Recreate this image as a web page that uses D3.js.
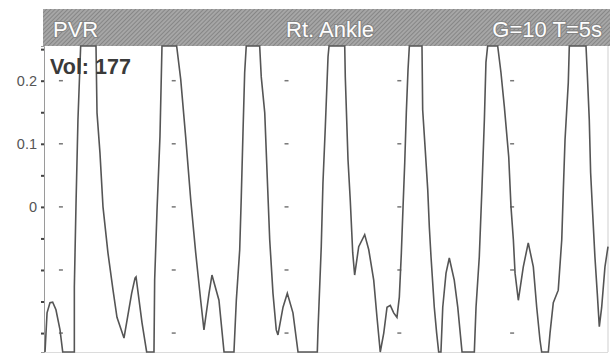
<!DOCTYPE html>
<html>
<head>
<meta charset="utf-8">
<script src="https://cdn.jsdelivr.net/npm/d3@7"></script>
<style>
  html, body { margin: 0; padding: 0; background: #fff; }
  svg { display: block; }
</style>
</head>
<body>
<svg id="chart" width="611" height="354"></svg>
<script>
// Pulse volume recording, right ankle: time (s) and volume signal
const times = [
  0.009, 0.027, 0.053, 0.077, 0.106, 0.142, 0.166, 0.269, 0.269, 0.284, 0.301, 0.325,
  0.461, 0.470, 0.496, 0.523, 0.567, 0.612, 0.647, 0.709, 0.777, 0.807, 0.816, 0.869,
  0.910, 0.975, 0.981, 1.002, 1.028, 1.046, 1.176, 1.212, 1.256, 1.301, 1.345, 1.389,
  1.418, 1.463, 1.489, 1.551, 1.596, 1.684, 1.705, 1.735, 1.749, 1.764, 1.779, 1.793,
  1.912, 1.926, 1.957, 1.980, 2.001, 2.030, 2.059, 2.074, 2.119, 2.157, 2.207, 2.252,
  2.423, 2.429, 2.458, 2.473, 2.494, 2.518, 2.527, 2.666, 2.671, 2.695, 2.715, 2.737,
  2.754, 2.790, 2.843, 2.879, 2.923, 2.952, 2.981, 3.012, 3.041, 3.070, 3.100, 3.129,
  3.150, 3.168, 3.183, 3.198, 3.212, 3.227, 3.239, 3.351, 3.357, 3.380, 3.402, 3.416,
  3.431, 3.460, 3.481, 3.499, 3.519, 3.535, 3.564, 3.593, 3.637, 3.668, 3.706, 3.815,
  3.830, 3.859, 3.883, 3.904, 3.918, 3.933, 4.022, 4.051, 4.081, 4.120, 4.140, 4.161,
  4.176, 4.205, 4.249, 4.293, 4.338, 4.368, 4.397, 4.412, 4.471, 4.486, 4.515, 4.559,
  4.590, 4.604, 4.619, 4.648, 4.657, 4.805, 4.816, 4.834, 4.846, 4.864, 4.884, 4.905,
  4.923, 4.944, 4.973, 5.000
];
const volumes = [
  -0.230, -0.168, -0.152, -0.151, -0.163, -0.195, -0.230, -0.230, -0.127, 0.006, 0.138, 0.255,
  0.255, 0.149, 0.086, 0.000, -0.073, -0.132, -0.175, -0.208, -0.137, -0.113, -0.111, -0.184,
  -0.230, -0.230, -0.116, -0.005, 0.111, 0.255, 0.255, 0.202, 0.111, 0.011, -0.073, -0.148,
  -0.195, -0.137, -0.108, -0.148, -0.230, -0.230, -0.148, -0.068, 0.016, 0.117, 0.213, 0.255,
  0.255, 0.206, 0.149, 0.043, -0.052, -0.137, -0.195, -0.203, -0.159, -0.137, -0.168, -0.230,
  -0.230, -0.195, -0.063, 0.038, 0.127, 0.238, 0.255, 0.255, 0.206, 0.075, 0.011, -0.073,
  -0.108, -0.063, -0.044, -0.068, -0.116, -0.175, -0.230, -0.200, -0.159, -0.156, -0.168, -0.175,
  -0.143, -0.073, 0.000, 0.070, 0.149, 0.217, 0.255, 0.255, 0.154, 0.090, 0.027, -0.032,
  -0.079, -0.159, -0.200, -0.230, -0.230, -0.159, -0.105, -0.081, -0.116, -0.159, -0.230, -0.230,
  -0.159, -0.079, 0.032, 0.138, 0.229, 0.255, 0.255, 0.213, 0.159, 0.079, 0.000, -0.052,
  -0.105, -0.148, -0.095, -0.057, -0.095, -0.159, -0.211, -0.230, -0.230, -0.200, -0.152, -0.132,
  -0.052, 0.027, 0.106, 0.197, 0.255, 0.255, 0.213, 0.138, 0.054, -0.010, -0.079, -0.137,
  -0.190, -0.159, -0.095, -0.063
];

// Axis ticks and the few that carry labels
const yTickValues = [0.25, 0.2, 0.15, 0.1, 0.05, 0, -0.05, -0.1, -0.15, -0.2];
const yTickLabels = { "0.2": "0.2", "0.1": "0.1", "0": "0" };
// Reference marks inside the plot (one per second, at each 0.1 level)
const gridTimes = [0.15, 1.15, 2.15, 3.15, 4.15];
const gridLevels = [0.2, 0.1, 0, -0.1, -0.2];

// Header text
const headerLeft = "PVR";
const headerMid = "Rt. Ankle";
const headerRight = "G=10 T=5s";
const volumeLabel = "Vol: 177";

const svg = d3.select("#chart");
const plot = { left: 44, right: 608, top: 46, bottom: 352 };

const x = d3.scaleLinear().domain([0, 5]).range([plot.left, plot.right]);
const y = d3.scaleLinear().domain([-0.23, 0.255]).range([plot.bottom, plot.top]).clamp(true);

// Hatched pattern for the title strip
const defs = svg.append("defs");
const pat = defs.append("pattern")
  .attr("id", "hatch").attr("patternUnits", "userSpaceOnUse")
  .attr("width", 3).attr("height", 3)
  .attr("patternTransform", "rotate(45)");
pat.append("rect").attr("width", 3).attr("height", 3).attr("fill", "#a6a6a6");
pat.append("line").attr("x1", 0).attr("y1", 0).attr("x2", 0).attr("y2", 3)
  .attr("stroke", "#707070").attr("stroke-width", 1.2);

svg.append("rect")
  .attr("x", 43).attr("y", 9).attr("width", 567).attr("height", 37)
  .attr("fill", "url(#hatch)");

const headerText = svg.append("g")
  .attr("font-family", "Liberation Sans, Arial, sans-serif")
  .attr("font-size", 22)
  .attr("fill", "#fdfdfd")
  .attr("stroke", "#858585")
  .attr("stroke-width", 2.2)
  .attr("paint-order", "stroke");
headerText.append("text").attr("x", 53).attr("y", 37).text(headerLeft);
headerText.append("text").attr("x", 286).attr("y", 37).text(headerMid);
headerText.append("text").attr("x", 602).attr("y", 37).attr("text-anchor", "end").text(headerRight);

// Plot frame (right and bottom edges)
svg.append("line")
  .attr("x1", plot.right).attr("x2", plot.right)
  .attr("y1", plot.top).attr("y2", plot.bottom)
  .attr("stroke", "#cfcfcf").attr("stroke-width", 1);
svg.append("line")
  .attr("x1", plot.left).attr("x2", plot.right)
  .attr("y1", plot.bottom + 0.5).attr("y2", plot.bottom + 0.5)
  .attr("stroke", "#dcdcdc").attr("stroke-width", 1);

// Dash marks
const marks = [];
gridTimes.forEach(t => gridLevels.forEach(v => marks.push({ t, v })));
svg.append("g").selectAll("line").data(marks).join("line")
  .attr("x1", d => x(d.t) - 2).attr("x2", d => x(d.t) + 2)
  .attr("y1", d => y(d.v)).attr("y2", d => y(d.v))
  .attr("stroke", "#777").attr("stroke-width", 1.5);

// Left axis
const yAxis = d3.axisLeft(y)
  .tickValues(yTickValues)
  .tickSize(3)
  .tickPadding(4)
  .tickFormat(d => yTickLabels[String(d)] || "");
const ax = svg.append("g")
  .attr("transform", `translate(${plot.left},0)`)
  .call(yAxis);
ax.select(".domain").attr("stroke", "#9a9a9a").attr("stroke-width", 1);
ax.selectAll(".tick line").attr("stroke", "#444").attr("stroke-width", 2);
ax.selectAll(".tick text")
  .attr("font-family", "Liberation Sans, Arial, sans-serif")
  .attr("font-size", 14.5)
  .attr("fill", "#555");

// Waveform
const pts = times.map((t, i) => [t, volumes[i]]);
const line = d3.line().x(d => x(d[0])).y(d => y(d[1]));
svg.append("path")
  .datum(pts)
  .attr("d", line)
  .attr("fill", "none")
  .attr("stroke", "#555")
  .attr("stroke-width", 1.6)
  .attr("stroke-linejoin", "miter");

// Volume readout
svg.append("text")
  .attr("x", 50).attr("y", 74)
  .attr("font-family", "Liberation Sans, Arial, sans-serif")
  .attr("font-size", 21.5)
  .attr("font-weight", "bold")
  .attr("fill", "#3a3a3a")
  .text(volumeLabel);
</script>
</body>
</html>
